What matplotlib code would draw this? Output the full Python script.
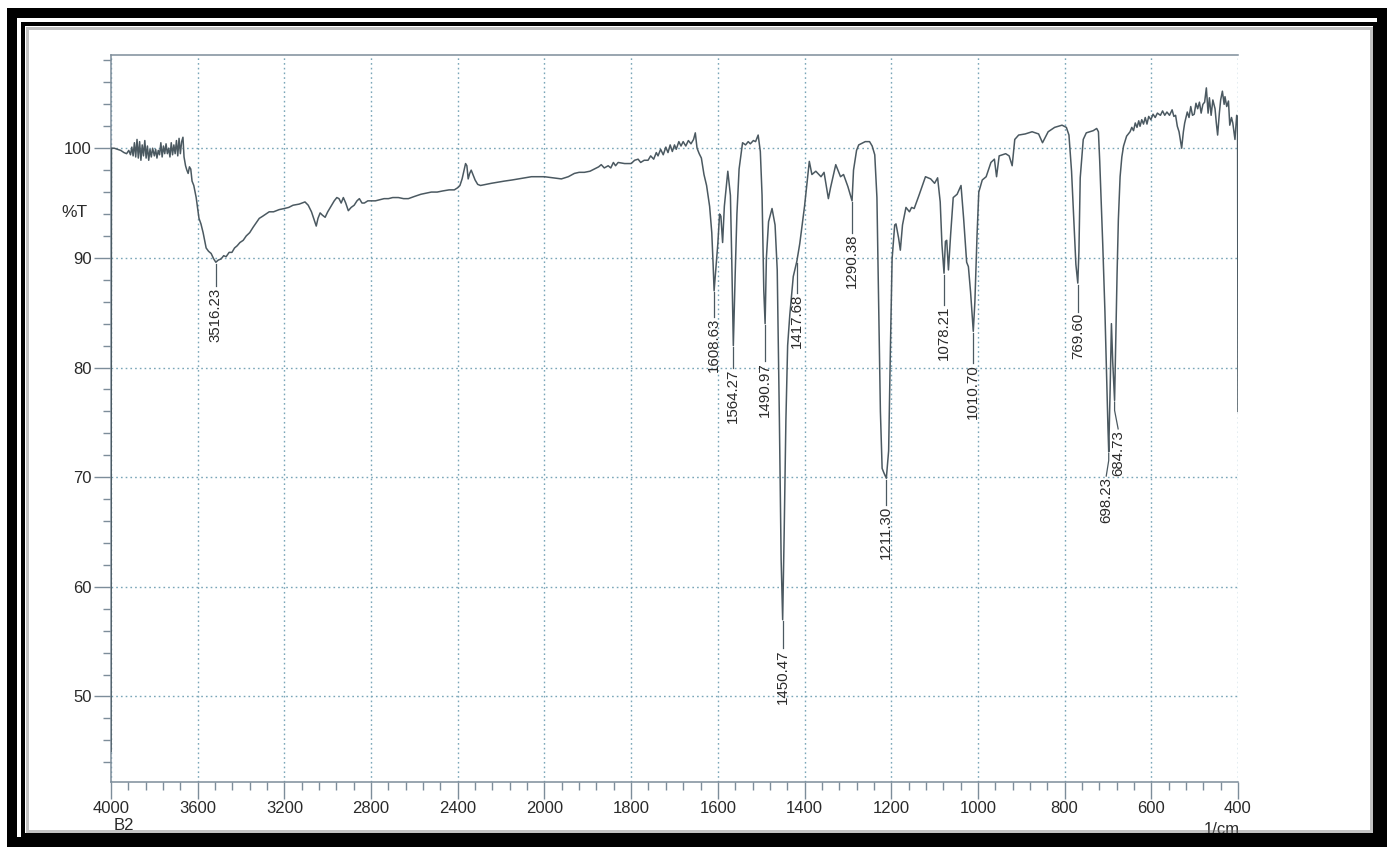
import numpy as np
import matplotlib
matplotlib.use("Agg")
import matplotlib.pyplot as plt
from matplotlib.patches import Rectangle
from matplotlib.ticker import FixedLocator, FixedFormatter, NullFormatter
from matplotlib.transforms import blended_transform_factory

plt.rcParams['font.family'] = ['Liberation Sans', 'DejaVu Sans']

# IR spectrum of sample B2: wavenumber (1/cm) and transmittance (%T)
wavenumber = [
    4000, 3998, 3985, 3970, 3955, 3940, 3928, 3918, 3910, 3904, 3898, 3892, 3886, 3880,
    3874, 3868, 3862, 3856, 3850, 3844, 3838, 3832, 3826, 3820, 3814, 3808, 3800, 3794,
    3788, 3782, 3776, 3770, 3764, 3758, 3752, 3746, 3740, 3734, 3728, 3722, 3716, 3710,
    3704, 3698, 3692, 3686, 3680, 3674, 3668, 3663,
    3656, 3650, 3644, 3638, 3632, 3626, 3618, 3607, 3594, 3585, 3575, 3568, 3561, 3550,
    3538, 3526, 3516.23, 3505, 3492, 3480, 3469, 3455, 3442, 3430, 3418, 3405, 3390, 3376,
    3360, 3344, 3330, 3316, 3300, 3285, 3270, 3250, 3224, 3200, 3180, 3160, 3132, 3105,
    3090, 3075, 3060, 3053, 3045, 3035, 3025, 3012, 3000, 2985, 2970, 2958, 2948, 2938,
    2928, 2917, 2905, 2892, 2878, 2865, 2854, 2842, 2831, 2815, 2799, 2780, 2760, 2740,
    2720, 2700, 2674, 2650, 2628, 2600, 2570, 2545, 2522, 2495, 2470, 2440, 2416, 2400,
    2390, 2380, 2372, 2364, 2358, 2352, 2345, 2338, 2330, 2320, 2308, 2295, 2270, 2245,
    2215, 2185, 2150, 2120, 2090, 2060, 2030,
    2000, 1980, 1961, 1945, 1931, 1920, 1908, 1895, 1885, 1875, 1869, 1862, 1853, 1847,
    1841, 1836, 1830, 1815, 1800, 1792, 1784, 1778, 1770, 1761, 1755, 1748, 1742, 1738,
    1732, 1726, 1720, 1715, 1710, 1705, 1700, 1696, 1690, 1685, 1680, 1674, 1668, 1662,
    1656, 1652, 1648, 1643, 1638, 1632, 1626, 1619, 1614, 1611, 1608.63, 1605, 1600, 1596,
    1593, 1589, 1585, 1577, 1571, 1568, 1564.27, 1560, 1556, 1551, 1543, 1536, 1530, 1525,
    1518, 1513, 1507, 1502, 1498, 1494, 1490.97, 1488, 1483, 1475, 1468, 1463, 1458, 1454,
    1450.47, 1447, 1443, 1439, 1434, 1426, 1417.68, 1411, 1400, 1389, 1383, 1374, 1362, 1355,
    1345, 1340, 1328, 1317, 1310, 1300, 1290.38, 1287, 1280, 1275, 1260, 1250, 1244, 1238,
    1233, 1229, 1225, 1221, 1217, 1211.30, 1206, 1202, 1198, 1192, 1189, 1183, 1179, 1174,
    1166, 1158, 1153, 1147, 1136, 1121, 1109, 1100, 1093, 1087, 1083, 1078.21, 1075, 1072,
    1068, 1063, 1057, 1048, 1039, 1033, 1026, 1022, 1017, 1010.70, 1007, 1002, 998, 990,
    981, 970, 962, 957, 951, 936, 928, 921, 915, 906, 891, 875, 860, 851,
    838, 823, 806, 796, 790, 784, 779, 774, 769.60, 767, 764, 757, 750, 742,
    734, 726, 722, 719, 712, 707, 703, 700, 698.23, 695, 692, 689, 684.73, 682,
    679, 676, 672, 668, 664, 657, 649, 645, 641, 637, 633, 629, 626, 622,
    618, 614, 610, 606, 601, 596, 591, 586, 579, 574, 569, 564, 558, 552,
    548, 544, 540, 536, 530, 526, 523, 517, 513, 509, 505, 501, 497, 493,
    489, 485, 481, 477, 473, 469, 466, 462, 458, 453, 450, 447, 443, 440,
    436, 432, 430, 426, 422, 419, 415, 412, 407, 403, 401, 400,
]
transmittance = [
    45.0, 100.0, 100.0, 99.9, 99.8, 99.6, 99.5, 99.8, 99.4, 100.1, 99.3, 100.5, 99.2, 100.8,
    99.1, 100.6, 98.9, 100.3, 99.3, 100.7, 99.1, 100.2, 98.9, 99.9, 99.2, 100.0, 99.3, 99.9,
    99.1, 99.8, 99.4, 100.5, 99.2, 100.2, 99.5, 100.4, 99.5, 100.0, 99.2, 100.5, 99.4, 100.3,
    99.5, 100.7, 99.3, 100.9, 99.5, 100.6, 101.0, 99.2,
    98.4, 98.0, 97.7, 98.3, 98.1, 97.0, 96.6, 95.5, 93.6, 93.1, 92.3, 91.6, 90.9, 90.6,
    90.4, 89.9, 89.6, 89.8, 89.9, 90.2, 90.1, 90.5, 90.5, 90.9, 91.1, 91.4, 91.6, 92.0,
    92.3, 92.8, 93.2, 93.6, 93.8, 94.0, 94.2, 94.2, 94.4, 94.5, 94.6, 94.8, 94.9, 95.1,
    94.8, 94.2, 93.3, 92.9, 93.6, 94.1, 93.9, 93.7, 94.2, 94.7, 95.2, 95.5, 95.4, 95.0,
    95.5, 95.0, 94.3, 94.6, 94.8, 95.2, 95.4, 95.0, 95.0, 95.2, 95.2, 95.2, 95.3, 95.4,
    95.4, 95.5, 95.5, 95.4, 95.4, 95.6, 95.8, 95.9, 96.0, 96.0, 96.1, 96.2, 96.2, 96.4,
    96.6, 97.2, 97.9, 98.6, 98.4, 97.2, 97.7, 98.0, 97.6, 97.1, 96.7, 96.6, 96.7, 96.8,
    96.9, 97.0, 97.1, 97.2, 97.3, 97.4, 97.4,
    97.4, 97.3, 97.2, 97.4, 97.7, 97.8, 97.8, 97.9, 98.1, 98.3, 98.5, 98.2, 98.4, 98.2,
    98.7, 98.4, 98.7, 98.6, 98.6, 98.9, 99.0, 98.7, 98.9, 98.9, 99.3, 99.0, 99.6, 99.3,
    99.9, 99.4, 100.1, 99.6, 100.3, 99.7, 100.3, 99.9, 100.6, 100.2, 100.6, 100.2, 100.7, 100.4,
    100.8, 101.4, 100.0, 99.5, 99.1, 97.6, 96.6, 94.7, 92.3, 89.5, 87.0, 88.8, 91.3, 94.0,
    93.8, 91.4, 94.7, 97.9, 95.7, 90.0, 82.0, 88.5, 94.0, 98.1, 100.5, 100.3, 100.6, 100.4,
    100.7, 100.6, 101.2, 99.7, 95.7, 87.0, 84.0, 90.0, 93.3, 94.5, 93.0, 88.9, 75.2, 62.5,
    57.0, 64.9, 75.2, 82.0, 84.8, 88.3, 89.7, 91.3, 94.7, 98.8, 97.6, 97.9, 97.4, 97.8,
    95.4, 96.4, 98.5, 97.4, 97.6, 96.5, 95.2, 98.0, 99.8, 100.3, 100.6, 100.6, 100.2, 99.4,
    95.5, 86.0, 76.0, 70.8, 70.4, 69.9, 72.4, 81.5, 89.9, 93.0, 93.1, 91.8, 90.7, 93.0,
    94.6, 94.2, 94.6, 94.5, 95.7, 97.4, 97.2, 96.8, 97.3, 95.1, 91.2, 88.6, 91.5, 91.6,
    88.9, 92.1, 95.5, 95.8, 96.6, 93.6, 89.6, 89.2, 86.9, 83.3, 86.0, 92.1, 96.0, 97.1,
    97.4, 98.7, 99.0, 97.4, 99.3, 99.5, 99.3, 98.4, 100.8, 101.2, 101.3, 101.5, 101.3, 100.5,
    101.5, 101.9, 102.1, 101.9, 101.2, 97.9, 93.6, 89.4, 87.7, 90.6, 97.3, 100.8, 101.4, 101.5,
    101.6, 101.8, 101.5, 98.8, 91.2, 85.1, 79.0, 74.5, 72.3, 78.0, 84.0, 80.5, 77.0, 82.5,
    88.5, 93.5, 97.4, 99.2, 100.2, 101.1, 101.5, 101.9, 101.6, 102.3, 101.9, 102.5, 102.0, 102.6,
    102.2, 102.8, 102.2, 102.9, 102.6, 103.1, 102.8, 103.2, 103.0, 103.4, 103.0, 103.3, 103.0, 103.5,
    102.9, 103.0, 102.0, 101.5, 100.0, 101.5, 102.3, 103.3, 102.8, 103.8, 103.0, 103.1, 104.1, 103.6,
    104.2, 103.2, 104.0, 104.2, 105.5, 103.2, 104.6, 103.0, 104.4, 103.6, 102.3, 101.2, 103.2, 104.4,
    105.2, 104.0, 104.7, 103.8, 104.3, 102.1, 102.8, 102.3, 100.8, 103.0, 102.5, 76.0,
]

# peak picks: position, where the printed value sits, and top of the printed value (%T)
peak_wn = [3516.23, 1608.63, 1564.27, 1490.97, 1450.47, 1417.68, 1290.38,
           1211.30, 1078.21, 1010.70, 769.60, 698.23, 684.73]
peak_text_wn = [3516.23, 1608.63, 1564.27, 1490.97, 1450.47, 1417.68, 1290.38,
                1211.30, 1078.21, 1010.70, 769.60, 704.0, 676.5]
peak_text_top = [87.4, 84.6, 80.0, 80.6, 54.4, 86.8, 92.3,
                 67.5, 85.7, 80.4, 85.1, 70.1, 74.4]

x_major = [4000, 3600, 3200, 2800, 2400, 2000, 1800, 1600, 1400, 1200, 1000, 800, 600, 400]
y_major = [50, 60, 70, 80, 90, 100]

W, H = 1392, 847


def fwd(x):
    # above 2000 1/cm the chart is compressed by half
    x = np.asarray(x, dtype=float)
    return np.where(x > 2000, 2000 + (x - 2000) / 2.0, x)


def inv(u):
    u = np.asarray(u, dtype=float)
    return np.where(u > 2000, 2000 + (u - 2000) * 2.0, u)


def fig_xy(px, py):
    return px / W, 1 - py / H


fig = plt.figure(figsize=(W / 100, H / 100), dpi=100)
fig.patch.set_facecolor('white')

x0, y0 = fig_xy(111, 782)
ax = fig.add_axes([x0, y0, 1127 / W, 727 / H])
ax.set_xscale('function', functions=(fwd, inv))
ax.set_xlim(4000, 400)
ax.set_ylim(42.2, 108.5)

spine_col = '#7d8d9a'
for side in ['left', 'top', 'bottom']:
    ax.spines[side].set_color(spine_col)
    ax.spines[side].set_linewidth(1.1)
ax.spines['right'].set_visible(False)

x_minor = [v for v in list(range(440, 2000, 40)) + list(range(2080, 4000, 80))
           if v not in x_major]
y_minor = [v for v in range(44, 109, 2) if v not in y_major]

ax.xaxis.set_major_locator(FixedLocator(x_major))
ax.xaxis.set_major_formatter(FixedFormatter([str(v) for v in x_major]))
ax.xaxis.set_minor_locator(FixedLocator(x_minor))
ax.xaxis.set_minor_formatter(NullFormatter())
ax.yaxis.set_major_locator(FixedLocator(y_major))
ax.yaxis.set_major_formatter(FixedFormatter([str(v) for v in y_major]))
ax.yaxis.set_minor_locator(FixedLocator(y_minor))
ax.yaxis.set_minor_formatter(NullFormatter())

ax.tick_params(which='major', direction='out', length=12, width=1.0, color=spine_col,
               labelsize=12, labelcolor='#2a2a2a', pad=2)
ax.tick_params(which='minor', direction='out', length=5.5, width=1.0, color=spine_col)

ax.grid(which='major', color='#7aa6b8', linestyle=(0, (1.2, 2.2)), linewidth=1.0)

line_col = '#4b5961'
ax.plot(wavenumber, transmittance, color=line_col, linewidth=1.1, zorder=3)

# leader lines and rotated peak values
wn_asc = np.array(wavenumber[::-1], dtype=float)
t_asc = np.array(transmittance[::-1], dtype=float)
for w, tw, top in zip(peak_wn, peak_text_wn, peak_text_top):
    t_peak = np.interp(w, wn_asc, t_asc)
    if tw == w:
        xs = [w, w]
        ys = [t_peak - 0.15, top]
    else:
        bend = t_peak - 0.35 * (t_peak - top)
        xs = [w, w, tw]
        ys = [t_peak - 0.15, bend, top]
    ax.plot(xs, ys, color=line_col, linewidth=0.9, zorder=3)
    ax.text(tw, top - 0.1, f"{w:.2f}", rotation=90, ha='center', va='top',
            fontsize=10.8, color='#2a2a2a', zorder=4)

tr = blended_transform_factory(ax.transAxes, ax.transData)
ax.text(-0.032, 94.1, '%T', transform=tr, ha='center', va='center',
        fontsize=12.5, color='#2a2a2a')

fig.text(*fig_xy(124, 825), 'B2', ha='center', va='center', fontsize=12, color='#2a2a2a')
fig.text(*fig_xy(1222, 829), '1/cm', ha='center', va='center', fontsize=12, color='#2a2a2a')

# double black border with a soft inner shadow
def border(left, top, right, bottom, lw_px, color, alpha=1.0):
    bx, by = fig_xy(left, bottom)
    rect = Rectangle((bx, by), (right - left) / W, (bottom - top) / H,
                     transform=fig.transFigure, fill=False, edgecolor=color,
                     linewidth=lw_px * 0.72, alpha=alpha, zorder=10)
    fig.add_artist(rect)

border(12, 13, 1382, 842, 10, 'black')
border(22.5, 24, 1375, 835, 4, 'black')
border(26.5, 28, 1371, 831, 3, '#777777', alpha=0.45)

fig.savefig('out.png', dpi=100, facecolor='white')
